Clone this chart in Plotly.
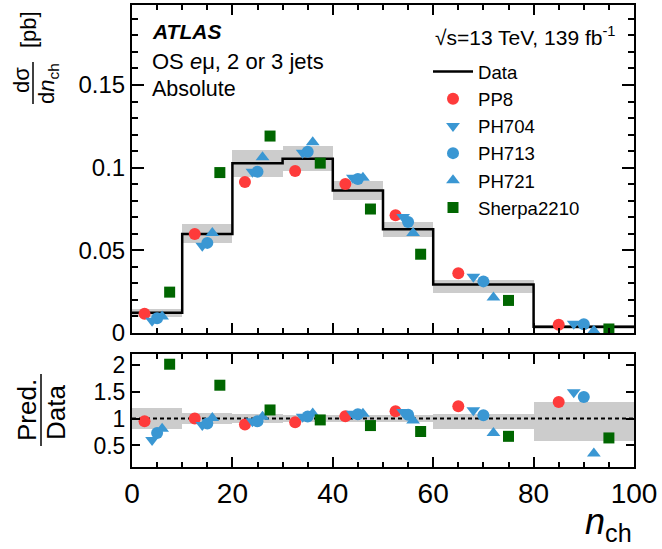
import plotly.graph_objects as go

# ---------------- data ----------------
bin_edges = [0, 10, 20, 30, 40, 50, 60, 80, 100]
data_vals = [0.0123, 0.0599, 0.1027, 0.1054, 0.0862, 0.0627, 0.0294, 0.0038]
unc_up_rel = [0.19, 0.10, 0.08, 0.075, 0.07, 0.07, 0.09, 0.31]
unc_down_rel = [0.19, 0.095, 0.08, 0.072, 0.07, 0.07, 0.185, 0.42]

ratio_pp8 = [0.95, 1.00, 0.89, 0.93, 1.045, 1.135, 1.23, 1.31]
ratio_ph704 = [0.60, 0.88, 0.95, 1.035, 1.09, 1.12, 1.155, 1.49]
ratio_ph713 = [0.73, 0.91, 0.95, 1.04, 1.08, 1.07, 1.062, 1.40]
ratio_ph721 = [0.81, 1.01, 1.035, 1.095, 1.09, 0.965, 0.73, 0.35]
ratio_sherpa = [2.01, 1.62, 1.16, 0.975, 0.87, 0.76, 0.67, 0.64]

x_tick_vals = [0, 20, 40, 60, 80, 100]
y_tick_vals = [0, 0.05, 0.1, 0.15]
y_tick_text = ["0", "0.05", "0.1", "0.15"]
r_tick_vals = [0.5, 1, 1.5, 2]
r_tick_text = ["0.5", "1", "1.5", "2"]

# ---------------- styling ----------------
FONT = "Liberation Sans, Arial, Helvetica, sans-serif"
series = [
    ("PP8", ratio_pp8, "circle", "#fe3b3b", 0.25, 12),
    ("PH704", ratio_ph704, "triangle-down", "#3a97d3", 0.40, 12),
    ("PH713", ratio_ph713, "circle", "#3a97d3", 0.50, 12),
    ("PH721", ratio_ph721, "triangle-up", "#3a97d3", 0.60, 12),
    ("Sherpa2210", ratio_sherpa, "square", "#006600", 0.75, 11),
]

W, H = 662, 549
L, R, T, B = 132, 634, 5, 467


def px(x):
    return (x - L) / (R - L)


def py(y):
    return (B - y) / (B - T)


lo = bin_edges[:-1]
hi = bin_edges[1:]
centers = [(a + b) / 2 for a, b in zip(lo, hi)]
widths = [b - a for a, b in zip(lo, hi)]

fig = go.Figure()

# uncertainty bands
band_lo = [v * (1 - d) for v, d in zip(data_vals, unc_down_rel)]
band_h = [v * (u + d) for v, u, d in zip(data_vals, unc_up_rel, unc_down_rel)]
fig.add_trace(go.Bar(x=centers, y=band_h, base=band_lo, width=widths,
                     marker=dict(color="#cccccc", line=dict(width=0)),
                     showlegend=False, hoverinfo="skip", xaxis="x", yaxis="y"))
rband_lo = [1 - d for d in unc_down_rel]
rband_h = [u + d for u, d in zip(unc_up_rel, unc_down_rel)]
fig.add_trace(go.Bar(x=centers, y=rband_h, base=rband_lo, width=widths,
                     marker=dict(color="#cccccc", line=dict(width=0)),
                     showlegend=False, hoverinfo="skip", xaxis="x2", yaxis="y2"))

# data step line
fig.add_trace(go.Scatter(x=bin_edges, y=data_vals + [data_vals[-1]],
                         mode="lines", line=dict(color="black", width=2.5, shape="hv"),
                         name="Data", xaxis="x", yaxis="y"))

# ratio = 1 dashed
fig.add_trace(go.Scatter(x=[bin_edges[0], bin_edges[-1]], y=[1, 1], mode="lines",
                         line=dict(color="black", width=2, dash="4px,3px"),
                         showlegend=False, xaxis="x2", yaxis="y2"))

for name, ratios, sym, col, frac, size in series:
    xs = [a + frac * w for a, w in zip(lo, widths)]
    ys = [v * r for v, r in zip(data_vals, ratios)]
    fig.add_trace(go.Scatter(x=xs, y=ys, mode="markers", name=name,
                             marker=dict(symbol=sym, color=col, size=size, line=dict(width=0)),
                             xaxis="x", yaxis="y"))
    fig.add_trace(go.Scatter(x=xs, y=ratios, mode="markers", showlegend=False,
                             marker=dict(symbol=sym, color=col, size=size, line=dict(width=0)),
                             xaxis="x2", yaxis="y2"))

axis_common = dict(showline=True, linecolor="black", linewidth=2, mirror="allticks",
                   ticks="inside", tickcolor="black", tickwidth=1.5, showgrid=False,
                   zeroline=False)

fig.update_layout(
    width=W, height=H,
    margin=dict(l=L, r=W - R, t=T, b=H - B, autoexpand=False),
    plot_bgcolor="white", paper_bgcolor="white",
    barmode="overlay", bargap=0,
    font=dict(family=FONT, color="black"),
    xaxis=dict(domain=[0, 1], range=[0, 100], anchor="y", tickvals=x_tick_vals,
               showticklabels=False, ticklen=10,
               minor=dict(dtick=5, tick0=0, ticklen=5, ticks="inside", tickcolor="black", showgrid=False),
               **axis_common),
    yaxis=dict(domain=[py(333), 1], range=[0, 0.1984], anchor="x", tickvals=y_tick_vals,
               ticktext=y_tick_text, ticklen=12,
               tickfont=dict(family=FONT, size=24, color="black"),
               minor=dict(dtick=0.01, tick0=0, ticklen=6, ticks="inside", tickcolor="black", showgrid=False),
               **axis_common),
    xaxis2=dict(domain=[0, 1], range=[0, 100], anchor="y2", tickvals=x_tick_vals,
                ticklen=10, tickfont=dict(family=FONT, size=28, color="black"),
                minor=dict(dtick=5, tick0=0, ticklen=5, ticks="inside", tickcolor="black", showgrid=False),
                **axis_common),
    yaxis2=dict(domain=[0, py(354)], range=[0.1, 2.2], anchor="x2", tickvals=r_tick_vals,
                ticktext=r_tick_text, ticklen=8,
                tickfont=dict(family=FONT, size=23, color="black"), **axis_common),
    legend=dict(x=px(428), y=py(53), xanchor="left", yanchor="top",
                bgcolor="rgba(0,0,0,0)", font=dict(family=FONT, size=18.6, color="black"),
                tracegroupgap=0, itemwidth=40),
    showlegend=True,
)

ann = []


def text(x, y, s, size, xanchor="left", yanchor="middle", angle=0):
    ann.append(dict(x=px(x), y=py(y), xref="paper", yref="paper", text=s, showarrow=False,
                    xanchor=xanchor, yanchor=yanchor, textangle=angle,
                    font=dict(family=FONT, size=size, color="black")))


text(150, 32, "<b><i>ATLAS</i></b>", 21)
text(150, 61, "OS <i>e</i>μ, 2 or 3 jets", 22)
text(150, 89, "Absolute", 21.5)
text(617, 36, "√s=13 TeV, 139 fb<sup>-1</sup>", 21, xanchor="right")
# x axis title
text(634, 524, "<i>n</i><sub>ch</sub>", 36, xanchor="right")
# top y title (fraction, rotated)
text(21, 80, "dσ", 22, xanchor="center", angle=-90)
text(48, 84, "d<i>n</i><sub>ch</sub>", 22, xanchor="center", angle=-90)
text(28, 30, "[pb]", 22, xanchor="center", angle=-90)
# ratio y title
text(27, 410, "Pred.", 26, xanchor="center", angle=-90)
text(56, 413, "Data", 26, xanchor="center", angle=-90)
fig.update_layout(annotations=ann)

fig.add_shape(type="line", xref="paper", yref="paper", x0=px(33), x1=px(33), y0=py(62), y1=py(104),
              line=dict(color="black", width=1.5))
fig.add_shape(type="line", xref="paper", yref="paper", x0=px(41), x1=px(41), y0=py(374), y1=py(446),
              line=dict(color="black", width=1.5))

fig.write_html("out.html", config={"displayModeBar": False},
               post_script="document.body.style.margin='0';document.body.style.padding='0';")
